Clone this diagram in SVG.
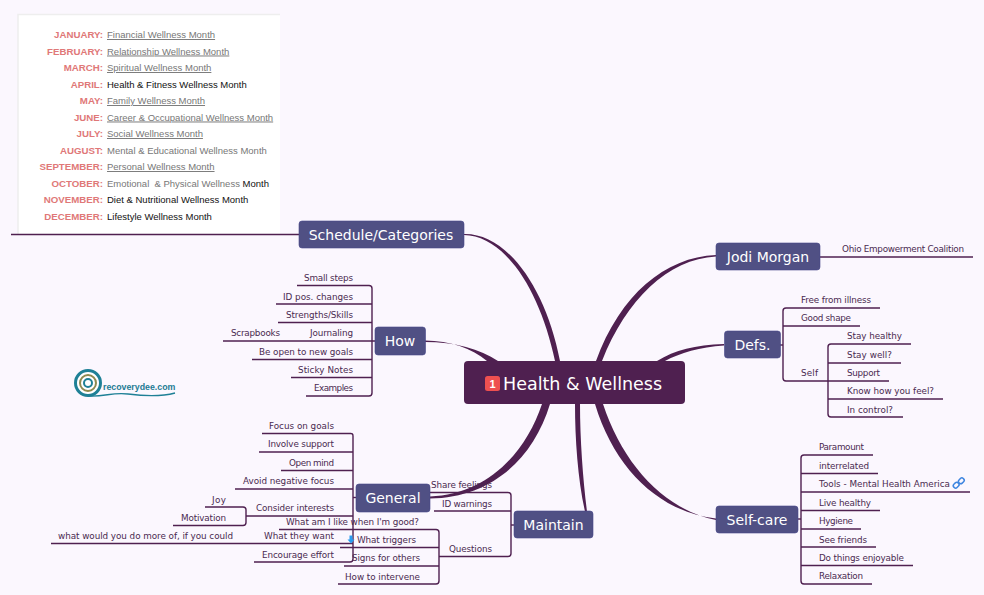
<svg xmlns="http://www.w3.org/2000/svg" width="984" height="595" viewBox="0 0 984 595">
<style>
.b{fill:#4F2050}
.l{fill:none;stroke:#4F2050;stroke-width:1.400;stroke-linejoin:round}
.n rect{fill:#505084;stroke:#46468a;stroke-width:.6}
.n text{font:14px "DejaVu Sans",sans-serif;fill:#fff;text-anchor:middle}
.t text{font:8.800px "DejaVu Sans",sans-serif;fill:#4a2a50}
.e text{text-anchor:end}
.m{font:bold 9.700px "Liberation Sans",Arial,sans-serif;fill:#E07878;text-anchor:end}
.d{font:9.500px "Liberation Sans",Arial,sans-serif;fill:#777}
.k{fill:#111}
.u{text-decoration:underline}
</style>
<rect width="984" height="595" fill="#FBF7FE"/>
<g id="panel">
<rect x="18" y="14" width="262" height="220" fill="#fff"/>
<path d="M18 234V14.500H280" fill="none" stroke="#eeeeee" stroke-width="1.500"/>
<text class="m" x="103" y="38">JANUARY:</text><text class="d u" x="107" y="38">Financial Wellness Month</text>
<text class="m" x="103" y="54.500">FEBRUARY:</text><text class="d u" x="107" y="54.500">Relationship Wellness Month</text>
<text class="m" x="103" y="71">MARCH:</text><text class="d u" x="107" y="71">Spiritual Wellness Month</text>
<text class="m" x="103" y="87.500">APRIL:</text><text class="d k" x="107" y="87.500">Health &amp; Fitness Wellness Month</text>
<text class="m" x="103" y="104">MAY:</text><text class="d u" x="107" y="104">Family Wellness Month</text>
<text class="m" x="103" y="120.500">JUNE:</text><text class="d u" x="107" y="120.500">Career &amp; Occupational Wellness Month</text>
<text class="m" x="103" y="137">JULY:</text><text class="d u" x="107" y="137">Social Wellness Month</text>
<text class="m" x="103" y="153.500">AUGUST:</text><text class="d" x="107" y="153.500">Mental &amp; Educational Wellness Month</text>
<text class="m" x="103" y="170">SEPTEMBER:</text><text class="d u" x="107" y="170">Personal Wellness Month</text>
<text class="m" x="103" y="186.500">OCTOBER:</text><text class="d" x="107" y="186.500" xml:space="preserve">Emotional  &amp; Physical Wellness <tspan class="k">Month</tspan></text>
<text class="m" x="103" y="203">NOVEMBER:</text><text class="d k" x="107" y="203">Diet &amp; Nutritional Wellness Month</text>
<text class="m" x="103" y="219.500">DECEMBER:</text><text class="d k" x="107" y="219.500">Lifestyle Wellness Month</text>
</g>
<g id="connectors">
<path class="b" d="M464 235C505 236 540 290 555 361H560C546 288 507 233 464 234Z"/>
<path class="b" d="M716 255C665 257 620 295 596 361H602C626 300 668 259 716 256.500Z"/>
<path class="b" d="M724 344C695 345 675 350 657 361H665C680 353 700 347 724 345.500Z"/>
<path class="b" d="M425 340.500C450 341 472 348 487 361H498C480 349 455 342 425 342Z"/>
<path class="b" d="M716 518.500C660 512 615 470 595 404H603C623 465 665 510 716 520Z"/>
<path class="b" d="M585 511.500C578 480 575 440 575 404H580C580 440 583 480 587 511.500Z"/>
<path class="b" d="M430 496.500C485 495 525 455 542 404H550C533 460 490 498 430 498.500Z"/>
<g class="l">
<path d="M11 234.500H299"/>
<path d="M820 257H973"/>
<path d="M780 345H783"/><path d="M880 308H786Q783 308 783 311V378Q783 381 786 381H889"/><path d="M783 326H860"/>
<path d="M911 344H831Q828 344 828 347V414Q828 417 831 417H903"/><path d="M828 363H901"/><path d="M828 399H943"/>
<path d="M798 519H801"/><path d="M873 455H804Q801 455 801 458V581Q801 584 804 584H872"/>
<path d="M801 473.500H878"/><path d="M801 492H970"/><path d="M801 510.500H880"/><path d="M801 529H861"/><path d="M801 547H876"/><path d="M801 565.500H913"/>
<path d="M297 285.500H369Q372 285.500 372 288.500V393Q372 396 369 396H306"/>
<path d="M276 304H372"/><path d="M278 322.500H372"/><path d="M223 341H375"/><path d="M252 359.500H372"/><path d="M291 377.500H372"/>
<path d="M262 433.500H350Q353 433 353 436V559Q353 562 350 562H254"/>
<path d="M259 452H353"/><path d="M281 470.500H353"/><path d="M235 489H353"/><path d="M246 516H353"/><path d="M51 543.500H353"/><path d="M353 497.500H356"/>
<path d="M205 507H243Q246 507 246 510V522.500Q246 525.500 243 525.500H173"/>
<path d="M430 492.500H508Q511 492.500 511 495.500V553.500Q511 556.500 508 556.500H439"/>
<path d="M434 511H511"/><path d="M511 525H514"/>
<path d="M279 529.500H436Q439 529.500 439 532.500V581Q439 584 436 584H338"/>
<path d="M340 547.500H439"/><path d="M344 566H439"/>
</g>
</g>
<g id="central"><rect x="464" y="361" width="221" height="43" rx="4" fill="#4F2050"/>
<rect x="485" y="376" width="15" height="15" rx="2.500" fill="#EE5050"/>
<text x="492.500" y="387.500" font-family="Liberation Sans,sans-serif" font-size="11" font-weight="bold" fill="#fff" text-anchor="middle">1</text>
<text x="503" y="390" font-family="DejaVu Sans,sans-serif" font-size="17.500" fill="#fff">Health &amp; Wellness</text></g>
<g id="schedule" class="n"><rect x="299" y="221" width="165" height="27" rx="3"/><text x="381" y="240">Schedule/Categories</text></g>
<g id="how" class="n"><rect x="375" y="327" width="50.500" height="28" rx="3"/><text x="400" y="346">How</text></g>
<g id="jodi" class="n"><rect x="716" y="243" width="104" height="27" rx="3"/><text x="768" y="262">Jodi Morgan</text></g>
<g id="defs" class="n"><rect x="724.500" y="331" width="56" height="27" rx="3"/><text x="752.500" y="350">Defs.</text></g>
<g id="selfcare" class="n"><rect x="716" y="506" width="82" height="27" rx="3"/><text x="757" y="525">Self-care</text></g>
<g id="general" class="n"><rect x="356" y="484" width="74" height="28" rx="3"/><text x="393" y="503">General</text></g>
<g id="maintain" class="n"><rect x="514" y="511" width="79" height="27" rx="3"/><text x="553.500" y="530">Maintain</text></g>
<g id="leaves-right" class="t">
<text x="842" y="252" textLength="122">Ohio Empowerment Coalition</text>
<text x="801" y="303" textLength="70">Free from illness</text><text x="801" y="321" textLength="50">Good shape</text><text x="801" y="376" textLength="17">Self</text>
<text x="847" y="339" textLength="55">Stay healthy</text><text x="847" y="358" textLength="45">Stay well?</text><text x="847" y="376" textLength="33">Support</text><text x="847" y="394" textLength="87">Know how you feel?</text><text x="847" y="413" textLength="46">In control?</text>
<text x="819" y="450" textLength="45">Paramount</text><text x="819" y="468.500" textLength="50">interrelated</text><text x="819" y="487" textLength="131">Tools - Mental Health America</text><text x="819" y="505.500" textLength="52">Live healthy</text><text x="819" y="524" textLength="34">Hygiene</text><text x="819" y="542.500" textLength="48">See friends</text><text x="819" y="560.500" textLength="85">Do things enjoyable</text><text x="819" y="579" textLength="44">Relaxation</text>
</g>
<g id="leaves-left" class="t e">
<text x="353" y="281" textLength="49">Small steps</text><text x="353" y="299.500" textLength="70">ID pos. changes</text><text x="353" y="318" textLength="67">Strengths/Skills</text><text x="353" y="336" textLength="43">Journaling</text><text x="280" y="336" textLength="49">Scrapbooks</text><text x="353" y="354.500" textLength="94">Be open to new goals</text><text x="353" y="373" textLength="55">Sticky Notes</text><text x="353" y="391" textLength="39">Examples</text>
<text x="334" y="429" textLength="65">Focus on goals</text><text x="334" y="447" textLength="66">Involve support</text><text x="334" y="465.500" textLength="45">Open mind</text><text x="334" y="484" textLength="91">Avoid negative focus</text><text x="334" y="511" textLength="78">Consider interests</text><text x="334" y="539" textLength="70">What they want</text><text x="334" y="557.500" textLength="72">Encourage effort</text>
<text x="226" y="502.500" textLength="14">Joy</text><text x="226" y="520.500" textLength="45">Motivation</text><text x="233" y="539" textLength="175">what would you do more of, if you could</text>
<text x="492" y="488" textLength="61">Share feelings</text><text x="492" y="506.500" textLength="50">ID warnings</text><text x="492" y="552" textLength="43">Questions</text>
<text x="419" y="524.500" textLength="133">What am I like when I'm good?</text><text x="416" y="543" textLength="59">What triggers</text><text x="420" y="561" textLength="68">Signs for others</text><text x="420" y="579.500" textLength="75">How to intervene</text>
</g>
<g id="icons">
<path d="M349.500 535.500h3v4h2l-3.500 4-3.500-4h2z" fill="#2A9CF0"/>
<g fill="none" stroke="#3F86E0" stroke-width="1.500"><rect x="953" y="483" width="6" height="4.500" rx="2" transform="rotate(-45 956 485)"/><rect x="958.500" y="478.500" width="6" height="4.500" rx="2" transform="rotate(-45 961.500 481)"/></g>
</g>
<g id="logo">
<circle cx="88" cy="383" r="12.500" fill="#fff" stroke="#1E8096" stroke-width="3"/>
<circle cx="88" cy="383" r="8" fill="none" stroke="#8E8A50" stroke-width="2"/>
<circle cx="88" cy="383" r="4" fill="#fff" stroke="#1E8096" stroke-width="2"/>
<path d="M88 396C105 397 112 392 128 394S160 397 175 393" fill="none" stroke="#1E8096" stroke-width="1.300"/>
<text x="103" y="390" font-family="Liberation Sans,sans-serif" font-size="8.800" font-weight="bold" fill="#1E7C94">recoverydee.com</text>
</g>
</svg>
